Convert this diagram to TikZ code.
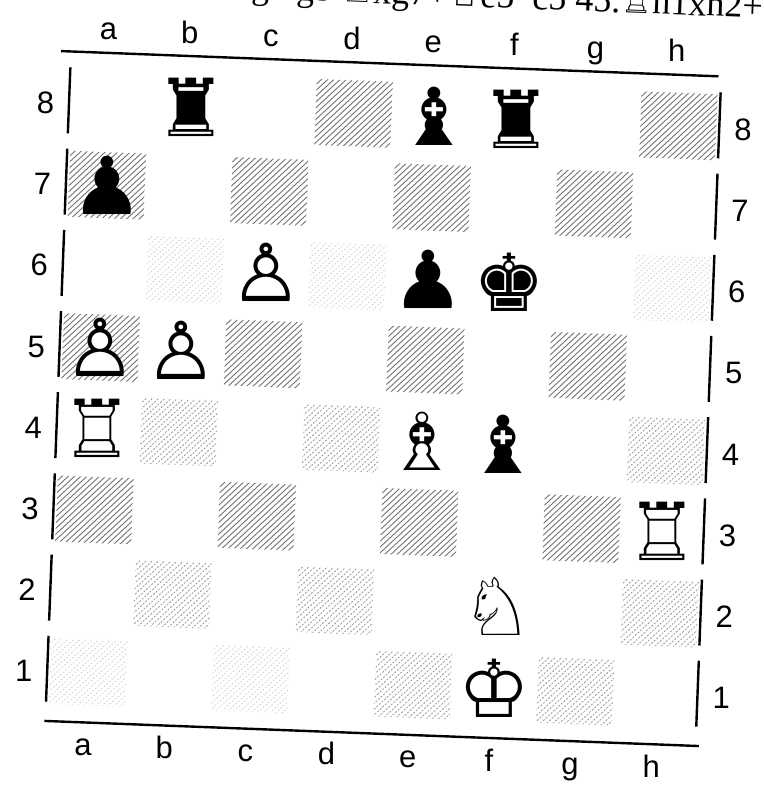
\documentclass[tikz,border=0pt]{standalone}
\usepackage{fontspec}
\setmainfont{Liberation Serif}
\newfontfamily\chessfont{DejaVu Sans}
\newfontfamily\labelfont{Liberation Sans}

\begin{document}
\begin{tikzpicture}[x=1pt, y=1pt,
    piece/.style={inner sep=0pt, font=\chessfont\fontsize{80}{80}\selectfont},
    coord/.style={inner sep=0pt, anchor=base, font=\labelfont\fontsize{31}{31}\selectfont},
    frame/.style={line width=2.4pt, black},
    hatch/.style={black!55, line width=0.9pt},
    faint/.style={black!40, line width=0.8pt, dash pattern=on 2pt off 1.5pt},
    fainter/.style={black!22, line width=0.7pt, dash pattern=on 1.5pt off 2pt}]
	\clip (0,0) rectangle (763,-787);
	\fill[white] (0,0) rectangle (763,-787);
	% line of the game score, cut off at the top
	\node[anchor=base east, inner sep=0pt, rotate=-2.2, font=\fontsize{36}{36}\selectfont] (moves) at (763,-18)
		{f5 g4 g5 {\chessfont ♖}xg7+{\chessfont ♔}e5 \ c5 45.{\chessfont ♖}h1xh2+};
	\begin{scope}[shift={(110,-104)}, rotate=-2.2]
		% dark squares
		\foreach \i/\j in {3/0, 7/0, 0/1, 2/1, 4/1, 6/1, 0/3, 2/3, 4/3, 6/3, 0/5, 2/5, 4/5, 6/5} {
			\begin{scope}
				\clip (81.25*\i-38, -81.25*\j-33) rectangle ++(76,66);
				\foreach \t in {-72,-66,...,72}
					\draw[hatch] (81.25*\i+\t-36, -81.25*\j-36) -- ++(72,72);
			\end{scope}
		}
		\foreach \i/\j in {1/4, 3/4, 7/4, 1/6, 3/6, 7/6, 4/7, 6/7} {
			\begin{scope}
				\clip (81.25*\i-38, -81.25*\j-33) rectangle ++(76,66);
				\foreach \t in {-72,-66,...,72}
					\draw[faint] (81.25*\i+\t-36, -81.25*\j-36) -- ++(72,72);
			\end{scope}
		}
		\foreach \i/\j in {1/2, 3/2, 7/2, 0/7, 2/7} {
			\begin{scope}
				\clip (81.25*\i-38, -81.25*\j-33) rectangle ++(76,66);
				\foreach \t in {-72,-66,...,72}
					\draw[fainter] (81.25*\i+\t-36, -81.25*\j-36) -- ++(72,72);
			\end{scope}
		}
		% frame
		\draw[frame] (-51,51) -- (607,51);
		\draw[frame] (-42,-619) -- (613,-619);
		\foreach \j in {0,...,7} {
			\draw[frame] (-41,-81.25*\j+35) -- (-41,-81.25*\j-31);
			\draw[frame] (609.75,-81.25*\j+35) -- (609.75,-81.25*\j-31);
		}
		% files and ranks
		\foreach \f [count=\i from 0] in {a,b,c,d,e,f,g,h} {
			\node[coord] (top\f) at (81.25*\i-4, 64) {\f};
			\node[coord] (bot\f) at (81.25*\i-2, -652) {\f};
		}
		\foreach \r [count=\j from 0] in {8,7,6,5,4,3,2,1} {
			\node[coord] (left\r) at (-64, -81.25*\j-12) {\r};
			\node[coord] (right\r) at (634, -81.25*\j-12) {\r};
		}
		% pieces
		\node[piece, text=white] (maska5) at (0, -81.25*3) {♟};
		\foreach \i/\j/\p in {1/0/♜, 4/0/♝, 5/0/♜, 0/1/♟, 2/2/♙, 4/2/♟, 5/2/♚, 0/3/♙, 1/3/♙,
				0/4/♖, 4/4/♗, 5/4/♝, 7/5/♖, 5/6/♘, 5/7/♔}
			\node[piece] (p\i\j) at (81.25*\i, -81.25*\j) {\p};
	\end{scope}
\end{tikzpicture}
\end{document}
